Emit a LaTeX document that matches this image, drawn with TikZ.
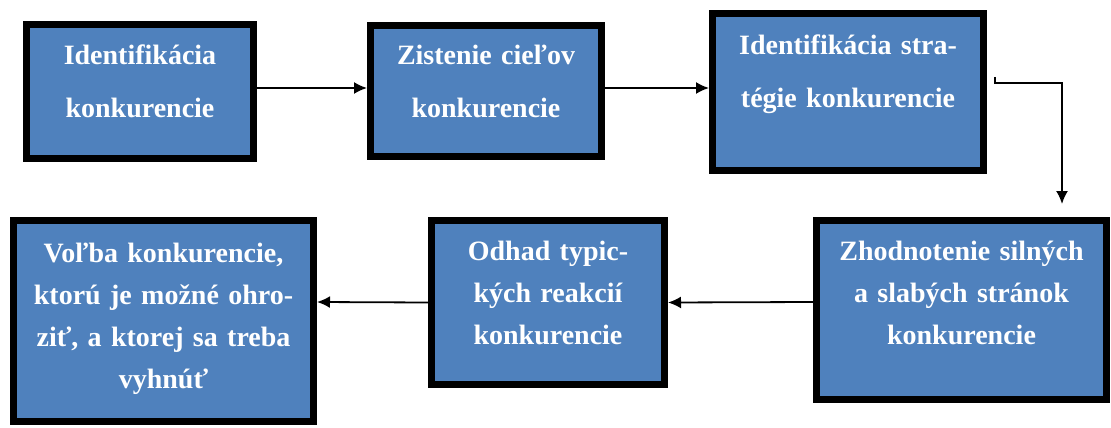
\documentclass[tikz,border=0pt]{standalone}
\usepackage{fontspec}
\setmainfont{Liberation Serif}
\usetikzlibrary{shadows,arrows.meta,calc}
\definecolor{boxblue}{HTML}{4F81BD}
\begin{document}
\begin{tikzpicture}[x=1pt,y=-1pt,
  stepbox/.style={draw=black, line width=7pt, fill=boxblue, inner sep=0pt,
    drop shadow={shadow xshift=2.5pt, shadow yshift=-3pt, fill=black!40, opacity=0.45}},
  boxtext/.style={anchor=base, text=white, inner sep=0pt, align=center,
    text width=300pt, font=\fontsize{28}{#1}\selectfont\bfseries},
  flow/.style={draw=black, line width=1.8pt, -{Latex[length=13pt,width=12pt]}}
]
\useasboundingbox (0,0) rectangle (1111,428);

% upper row of steps
\node[stepbox, minimum width=227pt, minimum height=134pt] (b1) at (140,91.5) {};
\node[stepbox, minimum width=231pt, minimum height=131pt] (b2) at (486,91) {};
\node[stepbox, minimum width=271pt, minimum height=157pt] (b3) at (848,92) {};
% lower row of steps
\node[stepbox, minimum width=290pt, minimum height=179pt] (b4) at (961.5,310) {};
\node[stepbox, minimum width=233pt, minimum height=164pt] (b5) at (548,302.5) {};
\node[stepbox, minimum width=300pt, minimum height=201pt] (b6) at (163.5,321) {};

% step labels
\node[boxtext=53pt] (t1) at ([yshift=-44pt]b1.north) {Identifikácia\\konkurencie};
\node[boxtext=53pt] (t2) at ([yshift=-43pt]b2.north) {Zistenie cieľov\\konkurencie};
\node[boxtext=53pt] (t3) at ([yshift=-45pt]b3.north) {Identifikácia stra-\\tégie konkurencie};
\node[boxtext=42pt] (t4) at ([yshift=-43pt]b4.north) {Zhodnotenie silných\\a slabých stránok\\konkurencie};
\node[boxtext=42pt] (t5) at ([yshift=-43pt]b5.north) {Odhad typic-\\kých reakcií\\konkurencie};
\node[boxtext=42pt] (t6) at ([yshift=-45pt]b6.north) {Voľba konkurencie,\\ktorú je možné ohro-\\ziť, a ktorej sa treba\\vyhnúť};

% connectors
\draw[flow] ([yshift=3.5pt]b1.east) -- ([yshift=3pt]b2.west);
\draw[flow] ([yshift=3pt]b2.east) -- ([yshift=4pt]b3.west);
\draw[flow] ([xshift=8pt,yshift=15pt]b3.east) -- ++(0,6)
  -| ([xshift=100.5pt,yshift=13pt]b4.north);
\draw[flow] ([yshift=8pt]b4.west) -- (b5.east);
\draw[flow] (b5.west) -- ([yshift=19pt]b6.east);
\end{tikzpicture}
\end{document}
